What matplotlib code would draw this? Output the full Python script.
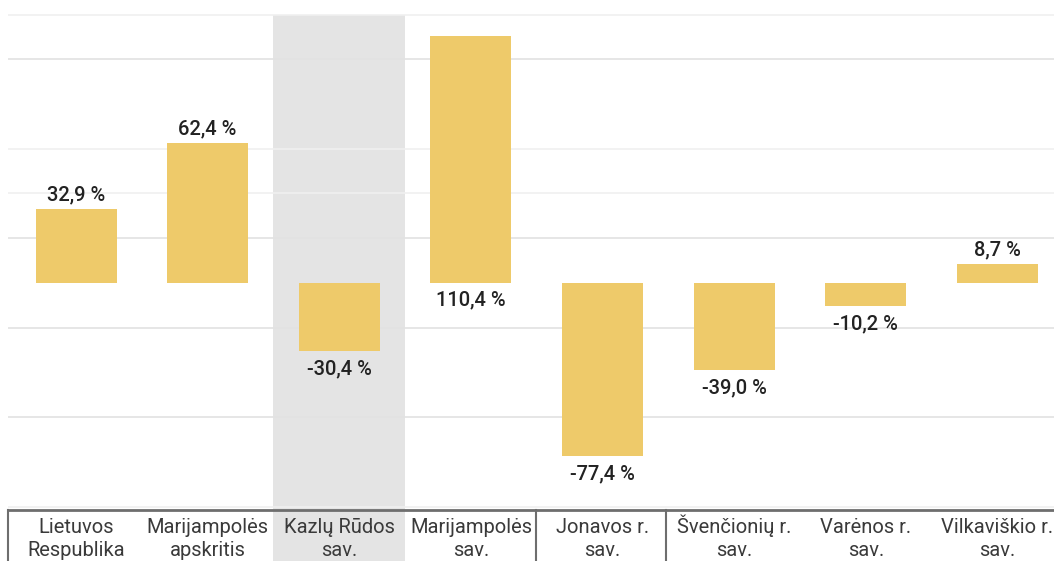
import matplotlib.pyplot as plt
from matplotlib.patches import Rectangle
from matplotlib.lines import Line2D
from matplotlib.transforms import blended_transform_factory

plt.rcParams["font.family"] = ["Roboto", "DejaVu Sans"]

CATEGORIES = [
    ("Lietuvos", "Respublika"),
    ("Marijampolės", "apskritis"),
    ("Kazlų Rūdos", "sav."),
    ("Marijampolės", "sav."),
    ("Jonavos r.", "sav."),
    ("Švenčionių r.", "sav."),
    ("Varėnos r.", "sav."),
    ("Vilkaviškio r.", "sav."),
]
VALUES = [32.9, 62.4, -30.4, 110.4, -77.4, -39.0, -10.2, 8.7]
VALUE_LABELS = ["32,9 %", "62,4 %", "-30,4 %", "110,4 %", "-77,4 %", "-39,0 %", "-10,2 %", "8,7 %"]
HIGHLIGHT = 2

BAR_COLOR = "#EECA6A"
BAND_COLOR = "#E4E4E4"

W, H = 1054, 561
fig = plt.figure(figsize=(W / 100, H / 100), dpi=100)
ax = fig.add_axes([8 / W, 53 / H, 1 - 8 / W, 1 - 53 / H])

x = list(range(len(CATEGORIES)))
ax.set_xlim(-0.517, 7.43)
ax.set_ylim(-100.6, 126.5)

# highlight band for the selected municipality
ax.bar(HIGHLIGHT, 120 - ax.get_ylim()[0], bottom=ax.get_ylim()[0], width=1.0,
       color=BAND_COLOR, zorder=0, linewidth=0)
tr = blended_transform_factory(ax.transData, fig.transFigure)
band = Rectangle((HIGHLIGHT - 0.5, 0), 1.0, 53 / H, transform=tr,
                 facecolor=BAND_COLOR, edgecolor="none", zorder=-1)
fig.patches.append(band)

# gridlines
for v in [100, 20, -20, -60]:
    ax.axhline(v, color="#E2E2E2", linewidth=1.2, zorder=1)
for v in [120, 60, 40, -100]:
    ax.axhline(v, color="#F0F0F0", linewidth=1.2, zorder=1)

ax.bar(x, VALUES, width=0.615, color=BAR_COLOR, zorder=2, linewidth=0)

lab_kw = dict(textcoords="offset pixels", ha="center", va="center",
              fontsize=14.5, fontweight="medium", color="#222222")
for xi, v, lab in zip(x, VALUES, VALUE_LABELS):
    if v > 100:
        # no room above the tallest bar, so its label sits under the zero line
        ax.annotate(lab, (xi, 0), xytext=(0, -17), **lab_kw)
    elif v >= 0:
        ax.annotate(lab, (xi, v), xytext=(0, 14), **lab_kw)
    else:
        ax.annotate(lab, (xi, v), xytext=(0, -18), **lab_kw)

# category labels, two lines each, baseline aligned
for xi, (l1, l2) in zip(x, CATEGORIES):
    fig.text(xi, (H - 533) / H, l1, transform=tr, ha="center", va="baseline",
             fontsize=14.5, color="#3A3A3A")
    fig.text(xi, (H - 556) / H, l2, transform=tr, ha="center", va="baseline",
             fontsize=14.5, color="#3A3A3A")

ax.set_xticks([])
ax.set_yticks([])
for s in ax.spines.values():
    s.set_visible(False)

# frame of the label row
fig.add_artist(Line2D([8 / W, 1], [(H - 510) / H] * 2, color="#6E6E6E", linewidth=2))
for px in [8, 536, 666]:
    fig.add_artist(Line2D([px / W] * 2, [0, (H - 510) / H], color="#6E6E6E", linewidth=1.5))

fig.savefig("out.png", dpi=100)
